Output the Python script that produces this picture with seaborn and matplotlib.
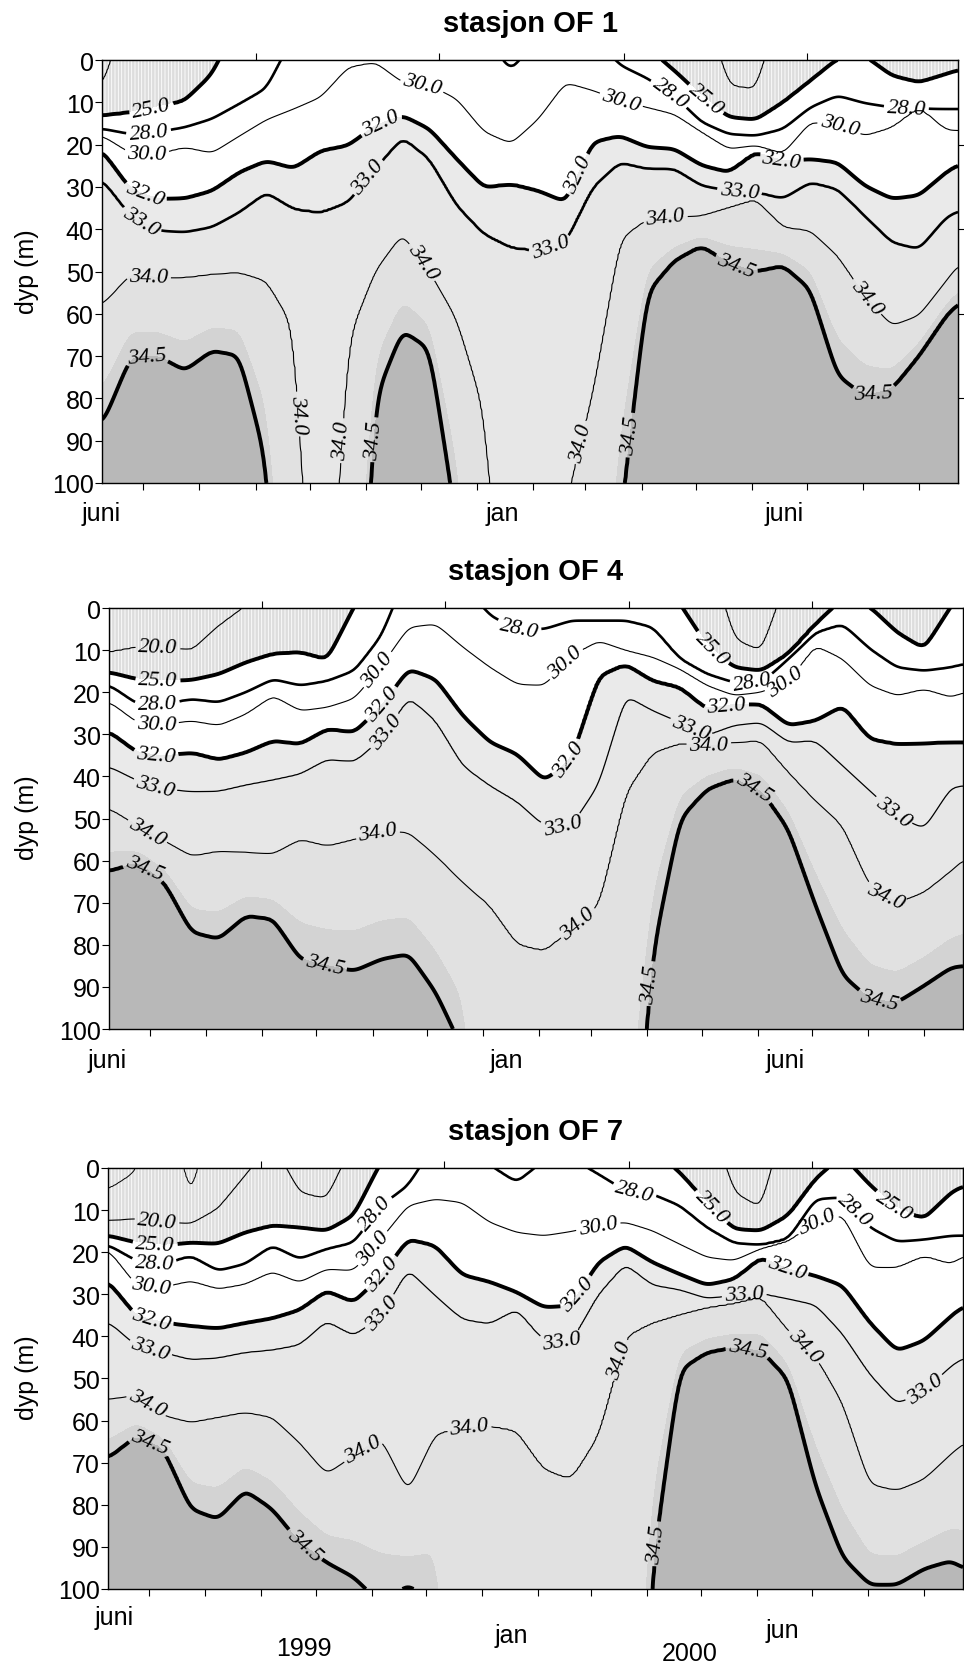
import numpy as np
import matplotlib
matplotlib.use("Agg")
import matplotlib.pyplot as plt
import matplotlib.transforms as mtransforms
import seaborn as sns

# sample days, counted from 1 Jan 1999 (day 182 = 1 July 1999, day 366 = 1 Jan 2000)
days = [160, 175, 190, 205, 220, 235, 250, 265, 280, 295, 310, 325, 340, 355, 370, 385,
        400, 415, 430, 445, 460, 475, 490, 505, 520, 535, 550, 565, 580, 595, 610, 625, 632]

# depth (m) of each isohaline at the sample days (negative = above surface, >100 = below bottom)
# stasjon OF 1
of1_20 = [6, -15, -15, -15, -15, -15, -15, -15, -15, -15, -15, -15, -15, -15, -15, -15, -15,
          -15, -15, -15, -15, -15, -15, 6, 7, -15, -15, -15, -15, -15, -15, -15, -15]
of1_25 = [13.1, 12.4, 11.2, 9.6, 3.3, -10, -10, -10, -10, -10, -10, -10, -10, -10, -10, -10, -10,
          -10, -10, -10, -3, 2.5, 8.5, 13.5, 14.1, 10.0, 4.9, -0.3, -1, 3.7, 5.3, 3.3, 2.3]
of1_28 = [16.3, 17.5, 17.0, 15.9, 13.9, 10.4, 6.7, -6, -6, -6, -6, -6, -6, -6, -6, 2.5, -6,
          -6, -6, 1.2, 4.3, 8.4, 14.7, 17.5, 17.9, 16.3, 11.2, 8.4, 10.2, 11.2, 11.6, 11.6, 11.6]
of1_30 = [18.0, 22.0, 22.2, 20.6, 22.0, 18.0, 14.1, 11.6, 8.8, 1.7, 0.5, 5.3, 6.0, 9.2, 17.0, 19.8,
          14.0, 5.3, 7.2, 9.6, 11.2, 12.8, 17.0, 21.0, 20.2, 22.2, 14.7, 15.1, 17.9, 15.9, 11.0, 16.5, 16.7]
of1_32 = [21.7, 30.5, 32.8, 32.7, 30.9, 26.5, 23.8, 25.6, 21.4, 20.2, 15.5, 13.1, 16.3, 23.4, 30.1, 29.3,
          30.9, 33.6, 19.4, 17.9, 20.6, 21.0, 24.9, 26.5, 21.7, 23.8, 23.4, 24.2, 29.7, 32.8, 32.0, 26.5, 24.6]
of1_33 = [28.5, 36.8, 40.3, 40.7, 39.5, 36.0, 31.3, 35.2, 36.0, 33.6, 25.7, 18.3, 23.4, 34.4, 41.1, 44.3,
          45.0, 43.0, 30.0, 24.2, 25.7, 25.7, 29.7, 30.9, 31.3, 32.8, 28.9, 30.5, 36.8, 43.1, 44.7, 37.2, 35.6]
of1_34 = [57.7, 50.6, 51.4, 51.4, 50.6, 50.2, 52.2, 63.0, 170, 66.0, 49.8, 41.1, 50.0, 61.2, 82.5, 160,
          160, 105, 78.6, 42.3, 37.6, 37.2, 36.8, 34.8, 32.8, 39.5, 40.3, 46.2, 55.7, 62.8, 60.4, 52.2, 48.2]
of1_345 = [85.7, 70.3, 69.9, 73.4, 68.7, 69.9, 95.0, 200, 200, 200, 80.1, 64.0, 68.3, 110, 200, 200,
           200, 200, 200, 110, 55.0, 47.4, 43.9, 48.0, 50.0, 48.6, 54.1, 74.6, 79.4, 77.8, 69.9, 60.4, 57.3]

# stasjon OF 4
of4_20 = [10.5, 9.3, 9.3, 10.1, 4.2, -0.5, -15, -15, -15, -15, -15, -15, -15, -15, -15, -15, -15,
          -15, -15, -15, -15, -15, -15, 7.4, 10.3, -8, -15, -15, -15, -15, -15, -15, -15]
of4_25 = [15.3, 16.9, 17.3, 17.1, 15.7, 12.9, 10.9, 10.5, 12.3, -0.5, -12, -12, -12, -12, -12, -12,
          -12, -12, -12, -12, -12, -1, 8.9, 14.1, 14.9, 10.9, 3.8, -2.2, -0.3, 5.8, 9.7, -0.5, -5]
of4_28 = [18.4, 22.8, 22.8, 21.6, 22.4, 20.0, 16.9, 18.4, 17.3, 14.9, 6.6, -9.5, -6, -6, 1.8, 5.0,
          5.0, 3.0, 3.0, 3.0, 4.6, 12.1, 15.7, 17.7, 17.7, 12.1, 5.8, 3.8, 9.7, 14.1, 14.9, 14.1, 13.3]
of4_30 = [22.4, 27.2, 27.6, 26.8, 27.9, 25.2, 20.8, 24.4, 23.6, 21.5, 13.7, 4.6, 3.8, 9.3, 14.1, 18.1,
          18.4, 11.3, 7.8, 10.1, 11.7, 14.5, 18.4, 20.8, 20.0, 17.3, 8.9, 12.1, 18.4, 20.8, 19.2, 21.2, 20.0]
of4_32 = [29.5, 34.3, 35.1, 34.3, 36.0, 34.3, 31.5, 32.3, 28.7, 29.5, 23.2, 14.5, 16.9, 25.6, 31.9, 34.7,
          41.0, 35.9, 16.1, 13.3, 17.3, 18.8, 24.0, 22.8, 22.8, 27.9, 26.8, 23.2, 31.1, 32.3, 32.1, 31.9, 31.9]
of4_33 = [37.8, 41.0, 43.0, 43.6, 43.5, 42.0, 40.8, 39.4, 35.9, 36.5, 31.1, 21.2, 26.8, 37.5, 42.2, 46.0,
          51.7, 51.7, 42.0, 20.8, 24.4, 27.2, 30.3, 27.9, 27.2, 31.9, 31.5, 37.5, 43.4, 49.3, 52.5, 42.6, 42.2]
of4_34 = [47.7, 51.7, 55.3, 58.9, 57.7, 58.0, 58.4, 54.9, 56.5, 54.9, 52.9, 53.3, 58.8, 65.2, 70.7, 79.8,
          81.4, 76.2, 70.7, 43.8, 34.3, 32.1, 32.7, 31.9, 31.5, 39.0, 45.8, 51.7, 66.0, 70.0, 67.5, 62.4, 59.6]
of4_345 = [62.4, 60.4, 65.2, 77.0, 78.6, 73.1, 73.9, 83.4, 85.0, 86.2, 83.4, 82.2, 91.3, 105, 200, 200,
           200, 200, 200, 163, 82.0, 50.1, 43.0, 40.6, 43.4, 52.5, 70.7, 87.3, 92.9, 93.7, 89.7, 85.4, 85.0]

# stasjon OF 7
of7_15 = [5.0, 0.8, -20, 7.5, -20, -20, -20, -20, -20, -20, -20, -20, -20, -20, -20, -20, -20,
          -20, -20, -20, -20, -20, -20, -20, -20, -20, -20, -20, -20, -20, -20, -20, -20]
of7_20 = [12.5, 12.1, 12.9, 13.3, 9.7, 1.8, -6.3, 5.8, 7.4, -6.4, -15, -15, -15, -15, -15, -15, -15,
          -15, -15, -15, -15, -15, -15, 5.8, 9.5, -15, -15, -15, -15, -15, -15, -15, -15]
of7_25 = [16.1, 17.7, 18.4, 17.7, 18.0, 15.3, 13.7, 14.1, 14.9, 11.3, -1.4, -10, -10, -10, -10, -10,
          -10, -10, -10, -10, -4.4, 1.0, 8.2, 14.5, 14.9, 11.3, 2.6, -3.0, 4.0, 9.7, 12.1, 5.8, 4.2]
of7_28 = [18.4, 22.0, 22.8, 20.8, 24.4, 22.8, 18.4, 21.6, 19.2, 17.7, 8.9, 4.2, -6.1, -6.0, -0.8, 3.4,
          -1.9, -2.4, 1.4, 5.4, 6.2, 8.9, 14.1, 17.8, 18.3, 16.9, 7.4, 7.0, 14.1, 17.5, 17.0, 16.1, 16.1]
of7_30 = [19.6, 27.9, 28.3, 26.8, 28.7, 27.6, 24.6, 27.2, 24.0, 24.4, 16.9, 8.9, 7.4, 8.2, 12.9, 15.3,
          16.1, 15.1, 13.7, 12.9, 14.9, 18.1, 21.2, 22.0, 19.1, 17.3, 12.9, 11.0, 23.6, 23.6, 20.8, 22.8, 20.8]
of7_32 = [27.2, 35.1, 36.7, 37.5, 38.1, 36.8, 35.7, 33.7, 29.1, 31.9, 25.6, 16.9, 18.4, 25.4, 27.0, 29.5,
          33.1, 32.7, 22.4, 18.4, 22.4, 25.2, 27.8, 26.4, 21.2, 24.0, 25.6, 27.9, 36.7, 43.4, 41.0, 35.1, 32.7]
of7_33 = [36.7, 42.2, 43.8, 45.5, 45.1, 43.8, 43.2, 42.0, 36.3, 39.8, 35.1, 24.0, 30.3, 35.9, 37.0, 33.5,
          41.0, 41.4, 30.0, 22.8, 27.8, 28.9, 31.0, 30.3, 29.9, 31.1, 32.5, 39.4, 49.0, 56.0, 53.0, 47.0, 45.0]
of7_34 = [54.9, 54.0, 58.8, 60.4, 59.2, 58.0, 59.2, 65.2, 72.7, 68.3, 64.0, 77.0, 63.2, 61.6, 61.2, 62.4,
          71.5, 73.9, 63.6, 40.0, 36.7, 34.8, 33.1, 32.1, 30.5, 38.6, 44.6, 55.7, 75.1, 76.6, 73.9, 67.9, 65.2]
of7_345 = [68.7, 63.6, 66.7, 81.0, 83.4, 76.6, 81.0, 88.9, 93.7, 97.2, 103.5, 99.0, 103.5, 200, 200, 200,
           200, 200, 200, 230, 95.0, 48.0, 43.8, 42.6, 43.4, 50.1, 75.5, 92.5, 99.0, 99.0, 95.2, 93.3, 95.2]

# where the contour labels sit (day, depth)
of1_labels = [(186.4, 10.8), (185, 17.1), (184, 22.6), (184, 30.6), (182, 37.2), (185, 51), (184, 70.7),
              (336, 5.8), (313, 15.1), (306, 27.7), (336, 47.8), (267, 83.7), (292, 90), (310, 89.8),
              (423.5, 27.3), (407, 44.3), (445.5, 9.8), (471.5, 8.4), (492.5, 9.2), (470, 37.2),
              (511, 30.9), (534, 23.5), (566.5, 15.1), (603, 11.3), (508, 50.2), (581, 56.1),
              (585, 79), (423, 90.4), (454, 88.8)]
of4_labels = [(186.4, 9.3), (186.4, 17), (186, 22.8), (185.5, 27.7), (185.5, 34), (185.5, 41.2),
              (307.4, 14.5), (312.4, 23.6), (315.7, 30.7), (182, 52.1), (180.6, 60.8), (278.7, 84.6),
              (308, 54.1), (385.9, 5), (413, 13.7), (413.5, 35.9), (492.5, 9.7), (482.5, 27.2),
              (501, 23.8), (491, 32.7), (515, 17.7), (533, 17.3), (515, 43.4), (410, 51.3),
              (420.7, 75.9), (460, 89.3), (591, 49.3), (589, 68.3), (585, 92.9)]
of7_labels = [(186.4, 12.1), (185.4, 18), (184.8, 22.6), (183, 27.9), (183.7, 35.2), (183, 42.6),
              (309, 11.3), (305.8, 19.2), (313, 26), (311.3, 34.7), (450, 5.4), (430, 13.7),
              (420, 30.3), (409.6, 41), (441, 45.4), (492.5, 9.3), (550.5, 12.1), (571.5, 10.1),
              (592.5, 9.3), (534, 24), (510.7, 30.3), (513, 42.6), (541, 43.8), (183.7, 54.1),
              (182.6, 64.8), (300.8, 67.5), (358.8, 61.6), (267, 90.1), (462.7, 89.3), (613, 54.1)]

month_starts = [182, 213, 244, 274, 305, 335, 366, 397, 426, 457, 487, 518, 548, 579, 610]
top_ticks = [244, 345, 447, 548]

sns.set_style("ticks")
plt.rcParams["font.family"] = ["Liberation Sans", "DejaVu Sans"]
plt.rcParams["axes.edgecolor"] = "black"
plt.rcParams["xtick.color"] = "black"
plt.rcParams["ytick.color"] = "black"
plt.rcParams["text.color"] = "black"
plt.rcParams["hatch.color"] = "#a4a4a4"
plt.rcParams["hatch.linewidth"] = 0.6

FIG_H = 1665
t_fine = np.linspace(159.3, 631.5, 560)
z_fine = np.linspace(0, 100, 301)


def build_field(levels, depth_lists):
    """Salinity on a (depth, time) grid, from the isohaline depths."""
    kern = np.exp(-0.5 * (np.arange(-9, 10) / 3.0) ** 2)
    kern /= kern.sum()
    curves = []
    for d in depth_lists:
        c = np.interp(t_fine, days, d)
        c = np.convolve(np.pad(c, 9, mode="edge"), kern, mode="valid")
        curves.append(c)
    curves = np.array(curves)
    for k in range(1, len(levels)):
        curves[k] = np.maximum(curves[k], curves[k - 1] + 0.05)
    field = np.empty((len(z_fine), len(t_fine)))
    sal = np.concatenate([[levels[0] - 8], levels, [35.5]])
    for j in range(len(t_fine)):
        zs = np.concatenate([[curves[0, j] - 60], curves[:, j], [curves[-1, j] + 60]])
        field[:, j] = np.interp(z_fine, zs, sal)
    return field


def draw_station(fig, rect, title, levels, depth_lists, label_pos, lw33, bottom_texts):
    ax = fig.add_axes(rect)
    S = build_field(levels, depth_lists)
    T, Z = np.meshgrid(t_fine, z_fine)

    fill_levels = [-50, 25, 32, 33, 34, 34.35, 34.5, 50]
    fill_colors = ["#dddddd", "#ffffff", "#eaeaea", "#e7e7e7", "#e1e1e1", "#d3d3d3", "#b8b8b8"]
    ax.contourf(T, Z, S, levels=fill_levels, colors=fill_colors,
                hatches=["|||||", None, None, None, None, None, None])

    widths = {15: 0.7, 20: 0.8, 25: 2.8, 28: 1.9, 30: 0.8, 32: 2.8, 33: lw33, 34: 0.8, 34.5: 2.8}
    cs = ax.contour(T, Z, S, levels=levels, colors="black",
                    linewidths=[widths[l] for l in levels])

    ax.set_xlim(t_fine[0], t_fine[-1])
    ax.set_ylim(100, 0)
    ax.set_yticks(range(0, 101, 10))
    ax.set_xticks(month_starts)
    ax.set_xticklabels([])
    ax.tick_params(direction="out", length=5, width=0.8, labelsize=18, pad=1)
    for sp in ax.spines.values():
        sp.set_linewidth(1.0)
        sp.set_visible(True)

    top = ax.secondary_xaxis("top")
    top.set_xticks(top_ticks)
    top.set_xticklabels([])
    top.tick_params(direction="out", length=5, width=0.8)
    right = ax.secondary_yaxis("right")
    right.set_yticks([20, 40, 60, 80])
    right.set_yticklabels([])
    right.tick_params(direction="out", length=5, width=0.8)

    with plt.rc_context({"font.family": ["Liberation Serif"], "font.style": "italic"}):
        ax.clabel(cs, fmt="%.1f", fontsize=16, inline=True, inline_spacing=3, manual=label_pos)

    ax.set_title(title, fontsize=21, fontweight="bold", pad=21)

    h_px = rect[3] * FIG_H
    trans = mtransforms.blended_transform_factory(ax.transData, ax.transAxes)
    for txt, day, drop in bottom_texts:
        ax.text(day, -drop / h_px, txt, transform=trans, ha="center", va="baseline", fontsize=18)
    return ax


fig = plt.figure(figsize=(9.64, 16.65), dpi=100)

levels_a = [20, 25, 28, 30, 32, 33, 34, 34.5]
levels_b = [15, 20, 25, 28, 30, 32, 33, 34, 34.5]

draw_station(fig, [0.1058, 0.70931, 0.8880, 0.25405], "stasjon OF 1", levels_a,
             [of1_20, of1_25, of1_28, of1_30, of1_32, of1_33, of1_34, of1_345], of1_labels, 1.9,
             [("juni", 159, 37), ("jan", 380, 37), ("juni", 535.6, 37)])
draw_station(fig, [0.11307, 0.38138, 0.88589, 0.25285], "stasjon OF 4", levels_a,
             [of4_20, of4_25, of4_28, of4_30, of4_32, of4_33, of4_34, of4_345], of4_labels, 0.9,
             [("juni", 158.5, 38), ("jan", 379, 38), ("juni", 533, 38)])
draw_station(fig, [0.11203, 0.04505, 0.88693, 0.25285], "stasjon OF 7", levels_b,
             [of7_15, of7_20, of7_25, of7_28, of7_30, of7_32, of7_33, of7_34, of7_345], of7_labels, 0.9,
             [("juni", 162.7, 35), ("1999", 267.6, 66), ("jan", 382, 53), ("2000", 480.6, 71),
              ("jun", 532, 48)])

for yc in [0.837, 0.5087, 0.1724]:
    fig.text(0.028, yc, "dyp (m)", rotation=90, ha="center", va="center", fontsize=18)

fig.savefig("out.png", dpi=100)
